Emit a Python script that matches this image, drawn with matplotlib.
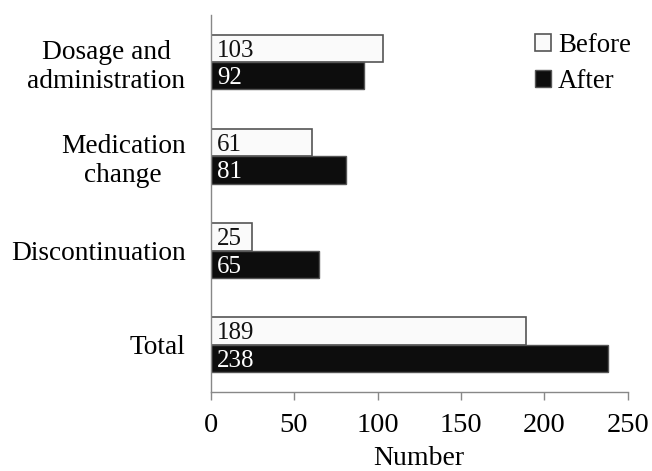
import matplotlib
matplotlib.use("Agg")
import matplotlib.pyplot as plt
import numpy as np

categories = ["Dosage and\nadministration", "Medication\nchange", "Discontinuation", "Total"]
before = [103, 61, 25, 189]
after = [92, 81, 65, 238]
x_ticks = [0, 50, 100, 150, 200, 250]

plt.rcParams["font.family"] = ["Liberation Serif", "DejaVu Serif"]

fig = plt.figure(figsize=(6.52, 4.71), dpi=100)
ax = fig.add_axes([0.323, 0.168, 0.640, 0.800])

y = np.arange(len(categories))
h = 0.29
edge = "#555555"
ax.barh(y - h / 2, before, height=h, color="#fafafa", edgecolor=edge, linewidth=1.2, label="Before")
ax.barh(y + h / 2, after, height=h, color="#0d0d0d", edgecolor=edge, linewidth=1.0, label="After")

for yi, v in zip(y, before):
    ax.text(4.0, yi - h / 2 + 0.025, str(v), va="center", ha="left", fontsize=18, color="#111111")
for yi, v in zip(y, after):
    ax.text(4.0, yi + h / 2 + 0.025, str(v), va="center", ha="left", fontsize=18, color="white")

ax.set_ylim(len(categories) - 0.5, -0.5)
ax.set_xlim(0, 250)
ax.set_xticks(x_ticks)
ax.set_yticks(y)
ax.set_yticklabels(categories, multialignment="center", linespacing=1.2)
ax.tick_params(axis="y", length=0, pad=18, labelsize=19.7)
ax.tick_params(axis="x", length=6, width=1.0, color="#888888", direction="out", pad=9, labelsize=20.5)
ax.set_xlabel("Number", fontsize=20, labelpad=6)

for s in ["top", "right"]:
    ax.spines[s].set_visible(False)
for s in ["left", "bottom"]:
    ax.spines[s].set_color("#888888")
    ax.spines[s].set_linewidth(1.0)

leg = ax.legend(loc="upper right", bbox_to_anchor=(631 / 652, (471 - 33) / 471),
                bbox_transform=fig.transFigure,
                frameon=False, fontsize=19.4,
                handlelength=0.6, handleheight=0.6, handletextpad=0.25, labelspacing=0.42,
                borderaxespad=0, borderpad=0)

fig.savefig("out.png", dpi=100)
